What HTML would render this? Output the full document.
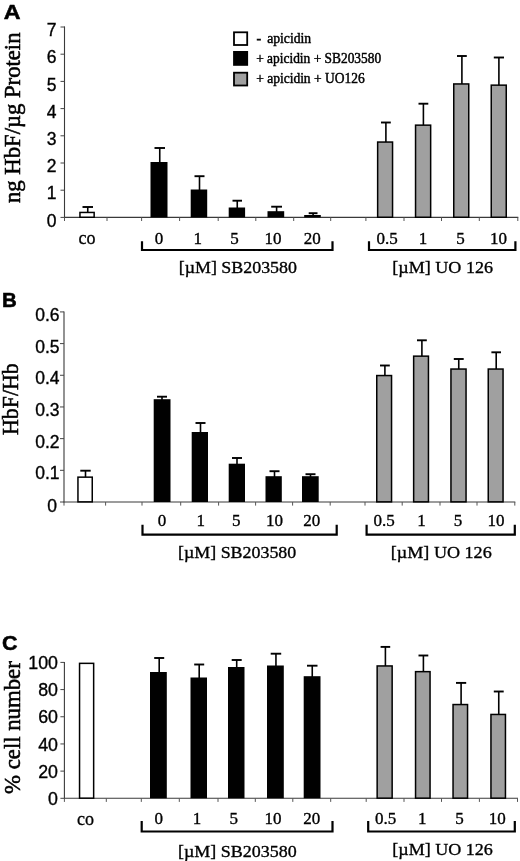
<!DOCTYPE html>
<html><head><meta charset="utf-8"><title>Figure</title>
<style>
html,body{margin:0;padding:0;background:#fff;}
body{width:520px;height:861px;overflow:hidden;font-family:"Liberation Sans",sans-serif;}
svg{display:block;will-change:transform;opacity:0.999;}
text{fill:#000;}
</style></head><body>
<svg width="520" height="861" viewBox="0 0 520 861">
<rect x="0" y="0" width="520" height="861" fill="#fff"/>
<line x1="64.50" y1="26.40" x2="64.50" y2="217.90" stroke="#3a3a3a" stroke-width="1.1" stroke-linecap="butt"/>
<line x1="64.00" y1="217.40" x2="518.30" y2="217.40" stroke="#3a3a3a" stroke-width="1.1" stroke-linecap="butt"/>
<line x1="60.50" y1="217.40" x2="64.50" y2="217.40" stroke="#444" stroke-width="1.0" stroke-linecap="butt"/>
<line x1="60.50" y1="190.20" x2="64.50" y2="190.20" stroke="#444" stroke-width="1.0" stroke-linecap="butt"/>
<line x1="60.50" y1="163.00" x2="64.50" y2="163.00" stroke="#444" stroke-width="1.0" stroke-linecap="butt"/>
<line x1="60.50" y1="135.80" x2="64.50" y2="135.80" stroke="#444" stroke-width="1.0" stroke-linecap="butt"/>
<line x1="60.50" y1="108.60" x2="64.50" y2="108.60" stroke="#444" stroke-width="1.0" stroke-linecap="butt"/>
<line x1="60.50" y1="81.40" x2="64.50" y2="81.40" stroke="#444" stroke-width="1.0" stroke-linecap="butt"/>
<line x1="60.50" y1="54.20" x2="64.50" y2="54.20" stroke="#444" stroke-width="1.0" stroke-linecap="butt"/>
<line x1="60.50" y1="27.00" x2="64.50" y2="27.00" stroke="#444" stroke-width="1.0" stroke-linecap="butt"/>
<line x1="64.50" y1="217.40" x2="64.50" y2="221.00" stroke="#555" stroke-width="1.0" stroke-linecap="butt"/>
<line x1="107.00" y1="217.40" x2="107.00" y2="221.00" stroke="#555" stroke-width="1.0" stroke-linecap="butt"/>
<line x1="141.60" y1="217.40" x2="141.60" y2="221.00" stroke="#555" stroke-width="1.0" stroke-linecap="butt"/>
<line x1="179.60" y1="217.40" x2="179.60" y2="221.00" stroke="#555" stroke-width="1.0" stroke-linecap="butt"/>
<line x1="218.20" y1="217.40" x2="218.20" y2="221.00" stroke="#555" stroke-width="1.0" stroke-linecap="butt"/>
<line x1="255.80" y1="217.40" x2="255.80" y2="221.00" stroke="#555" stroke-width="1.0" stroke-linecap="butt"/>
<line x1="293.70" y1="217.40" x2="293.70" y2="221.00" stroke="#555" stroke-width="1.0" stroke-linecap="butt"/>
<line x1="330.70" y1="217.40" x2="330.70" y2="221.00" stroke="#555" stroke-width="1.0" stroke-linecap="butt"/>
<line x1="365.90" y1="217.40" x2="365.90" y2="221.00" stroke="#555" stroke-width="1.0" stroke-linecap="butt"/>
<line x1="404.00" y1="217.40" x2="404.00" y2="221.00" stroke="#555" stroke-width="1.0" stroke-linecap="butt"/>
<line x1="441.50" y1="217.40" x2="441.50" y2="221.00" stroke="#555" stroke-width="1.0" stroke-linecap="butt"/>
<line x1="479.30" y1="217.40" x2="479.30" y2="221.00" stroke="#555" stroke-width="1.0" stroke-linecap="butt"/>
<line x1="517.80" y1="217.40" x2="517.80" y2="221.00" stroke="#555" stroke-width="1.0" stroke-linecap="butt"/>
<text x="56.50" y="226.60" font-family='"Liberation Sans", sans-serif' font-size="17.5" font-weight="normal" text-anchor="end" stroke="#000" stroke-width="0.35">0</text>
<text x="56.50" y="199.40" font-family='"Liberation Sans", sans-serif' font-size="17.5" font-weight="normal" text-anchor="end" stroke="#000" stroke-width="0.35">1</text>
<text x="56.50" y="172.20" font-family='"Liberation Sans", sans-serif' font-size="17.5" font-weight="normal" text-anchor="end" stroke="#000" stroke-width="0.35">2</text>
<text x="56.50" y="145.00" font-family='"Liberation Sans", sans-serif' font-size="17.5" font-weight="normal" text-anchor="end" stroke="#000" stroke-width="0.35">3</text>
<text x="56.50" y="117.80" font-family='"Liberation Sans", sans-serif' font-size="17.5" font-weight="normal" text-anchor="end" stroke="#000" stroke-width="0.35">4</text>
<text x="56.50" y="90.60" font-family='"Liberation Sans", sans-serif' font-size="17.5" font-weight="normal" text-anchor="end" stroke="#000" stroke-width="0.35">5</text>
<text x="56.50" y="63.40" font-family='"Liberation Sans", sans-serif' font-size="17.5" font-weight="normal" text-anchor="end" stroke="#000" stroke-width="0.35">6</text>
<text x="56.50" y="36.20" font-family='"Liberation Sans", sans-serif' font-size="17.5" font-weight="normal" text-anchor="end" stroke="#000" stroke-width="0.35">7</text>
<line x1="87.75" y1="207.00" x2="87.75" y2="212.70" stroke="#000" stroke-width="1.6" stroke-linecap="butt"/>
<line x1="82.50" y1="207.00" x2="93.00" y2="207.00" stroke="#000" stroke-width="1.9" stroke-linecap="butt"/>
<rect x="79.95" y="212.45" width="14.20" height="4.80" fill="#fff" stroke="#000" stroke-width="1.5"/>
<line x1="159.75" y1="148.00" x2="159.75" y2="163.00" stroke="#000" stroke-width="1.6" stroke-linecap="butt"/>
<line x1="154.50" y1="148.00" x2="165.00" y2="148.00" stroke="#000" stroke-width="1.9" stroke-linecap="butt"/>
<rect x="150.50" y="162.00" width="17.00" height="55.40" fill="#000"/>
<line x1="199.50" y1="176.20" x2="199.50" y2="190.50" stroke="#000" stroke-width="1.6" stroke-linecap="butt"/>
<line x1="194.50" y1="176.20" x2="204.50" y2="176.20" stroke="#000" stroke-width="1.9" stroke-linecap="butt"/>
<rect x="190.70" y="189.50" width="16.50" height="27.90" fill="#000"/>
<line x1="237.25" y1="200.70" x2="237.25" y2="208.50" stroke="#000" stroke-width="1.6" stroke-linecap="butt"/>
<line x1="232.50" y1="200.70" x2="242.00" y2="200.70" stroke="#000" stroke-width="1.9" stroke-linecap="butt"/>
<rect x="228.70" y="207.50" width="16.40" height="9.90" fill="#000"/>
<line x1="276.60" y1="206.70" x2="276.60" y2="212.20" stroke="#000" stroke-width="1.6" stroke-linecap="butt"/>
<line x1="271.20" y1="206.70" x2="282.00" y2="206.70" stroke="#000" stroke-width="1.9" stroke-linecap="butt"/>
<rect x="267.50" y="211.20" width="16.70" height="6.20" fill="#000"/>
<line x1="313.10" y1="213.20" x2="313.10" y2="216.00" stroke="#000" stroke-width="1.6" stroke-linecap="butt"/>
<line x1="308.70" y1="213.20" x2="317.50" y2="213.20" stroke="#000" stroke-width="1.9" stroke-linecap="butt"/>
<rect x="304.20" y="215.00" width="16.60" height="2.40" fill="#000"/>
<line x1="385.90" y1="122.50" x2="385.90" y2="142.30" stroke="#000" stroke-width="1.6" stroke-linecap="butt"/>
<line x1="381.00" y1="122.50" x2="390.80" y2="122.50" stroke="#000" stroke-width="1.9" stroke-linecap="butt"/>
<rect x="377.65" y="142.05" width="14.90" height="75.20" fill="#a0a0a0" stroke="#000" stroke-width="1.5"/>
<line x1="423.40" y1="103.70" x2="423.40" y2="125.40" stroke="#000" stroke-width="1.6" stroke-linecap="butt"/>
<line x1="418.50" y1="103.70" x2="428.30" y2="103.70" stroke="#000" stroke-width="1.9" stroke-linecap="butt"/>
<rect x="415.55" y="125.15" width="15.10" height="92.10" fill="#a0a0a0" stroke="#000" stroke-width="1.5"/>
<line x1="461.90" y1="56.00" x2="461.90" y2="84.20" stroke="#000" stroke-width="1.6" stroke-linecap="butt"/>
<line x1="457.00" y1="56.00" x2="466.80" y2="56.00" stroke="#000" stroke-width="1.9" stroke-linecap="butt"/>
<rect x="453.75" y="83.95" width="15.00" height="133.30" fill="#a0a0a0" stroke="#000" stroke-width="1.5"/>
<line x1="498.90" y1="57.50" x2="498.90" y2="85.40" stroke="#000" stroke-width="1.6" stroke-linecap="butt"/>
<line x1="493.80" y1="57.50" x2="504.00" y2="57.50" stroke="#000" stroke-width="1.9" stroke-linecap="butt"/>
<rect x="491.25" y="85.15" width="15.00" height="132.10" fill="#a0a0a0" stroke="#000" stroke-width="1.5"/>
<text x="159.00" y="243.80" font-family='"Liberation Serif", serif' font-size="17" font-weight="normal" text-anchor="middle" stroke="#000" stroke-width="0.35">0</text>
<text x="197.80" y="243.80" font-family='"Liberation Serif", serif' font-size="17" font-weight="normal" text-anchor="middle" stroke="#000" stroke-width="0.35">1</text>
<text x="234.40" y="243.80" font-family='"Liberation Serif", serif' font-size="17" font-weight="normal" text-anchor="middle" stroke="#000" stroke-width="0.35">5</text>
<text x="273.10" y="243.80" font-family='"Liberation Serif", serif' font-size="17" font-weight="normal" text-anchor="middle" stroke="#000" stroke-width="0.35">10</text>
<text x="312.20" y="243.80" font-family='"Liberation Serif", serif' font-size="17" font-weight="normal" text-anchor="middle" stroke="#000" stroke-width="0.35">20</text>
<text x="387.00" y="243.80" font-family='"Liberation Serif", serif' font-size="17" font-weight="normal" text-anchor="middle" stroke="#000" stroke-width="0.35">0.5</text>
<text x="423.00" y="243.80" font-family='"Liberation Serif", serif' font-size="17" font-weight="normal" text-anchor="middle" stroke="#000" stroke-width="0.35">1</text>
<text x="460.40" y="243.80" font-family='"Liberation Serif", serif' font-size="17" font-weight="normal" text-anchor="middle" stroke="#000" stroke-width="0.35">5</text>
<text x="498.40" y="243.80" font-family='"Liberation Serif", serif' font-size="17" font-weight="normal" text-anchor="middle" stroke="#000" stroke-width="0.35">10</text>
<text x="87.00" y="244.30" font-family='"Liberation Serif", serif' font-size="18" font-weight="normal" text-anchor="middle" stroke="#000" stroke-width="0.3">co</text>
<polyline points="142.00,241.20 142.00,250.00 332.50,250.00 332.50,241.20" fill="none" stroke="#000" stroke-width="2.2"/>
<polyline points="369.00,241.20 369.00,250.00 515.40,250.00 515.40,241.20" fill="none" stroke="#000" stroke-width="2.2"/>
<text x="178.70" y="273.30" font-family='"Liberation Serif", serif' font-size="17.5" font-weight="normal" text-anchor="start" textLength="118.3" lengthAdjust="spacingAndGlyphs" stroke="#000" stroke-width="0.35">[µM] SB203580</text>
<text x="392.30" y="273.30" font-family='"Liberation Serif", serif' font-size="17.5" font-weight="normal" text-anchor="start" textLength="100.7" lengthAdjust="spacingAndGlyphs" stroke="#000" stroke-width="0.35">[µM] UO 126</text>
<text x="3.80" y="18.60" font-family='"Liberation Sans", sans-serif' font-size="19.5" font-weight="bold" text-anchor="start" textLength="16.8" lengthAdjust="spacingAndGlyphs" stroke="#000" stroke-width="0.5">A</text>
<text transform="translate(19.90,203.00) rotate(-90)" font-family='"Liberation Serif", serif' font-size="22.5" stroke="#000" stroke-width="0.55" textLength="170.5" lengthAdjust="spacingAndGlyphs">ng HbF/µg Protein</text>
<line x1="64.00" y1="311.40" x2="64.00" y2="502.50" stroke="#3a3a3a" stroke-width="1.1" stroke-linecap="butt"/>
<line x1="63.50" y1="502.00" x2="515.30" y2="502.00" stroke="#3a3a3a" stroke-width="1.1" stroke-linecap="butt"/>
<line x1="60.00" y1="502.00" x2="64.00" y2="502.00" stroke="#444" stroke-width="1.0" stroke-linecap="butt"/>
<line x1="60.00" y1="470.32" x2="64.00" y2="470.32" stroke="#444" stroke-width="1.0" stroke-linecap="butt"/>
<line x1="60.00" y1="438.64" x2="64.00" y2="438.64" stroke="#444" stroke-width="1.0" stroke-linecap="butt"/>
<line x1="60.00" y1="406.96" x2="64.00" y2="406.96" stroke="#444" stroke-width="1.0" stroke-linecap="butt"/>
<line x1="60.00" y1="375.28" x2="64.00" y2="375.28" stroke="#444" stroke-width="1.0" stroke-linecap="butt"/>
<line x1="60.00" y1="343.60" x2="64.00" y2="343.60" stroke="#444" stroke-width="1.0" stroke-linecap="butt"/>
<line x1="60.00" y1="311.92" x2="64.00" y2="311.92" stroke="#444" stroke-width="1.0" stroke-linecap="butt"/>
<line x1="64.00" y1="502.00" x2="64.00" y2="505.60" stroke="#555" stroke-width="1.0" stroke-linecap="butt"/>
<line x1="105.60" y1="502.00" x2="105.60" y2="505.60" stroke="#555" stroke-width="1.0" stroke-linecap="butt"/>
<line x1="142.00" y1="502.00" x2="142.00" y2="505.60" stroke="#555" stroke-width="1.0" stroke-linecap="butt"/>
<line x1="180.70" y1="502.00" x2="180.70" y2="505.60" stroke="#555" stroke-width="1.0" stroke-linecap="butt"/>
<line x1="218.60" y1="502.00" x2="218.60" y2="505.60" stroke="#555" stroke-width="1.0" stroke-linecap="butt"/>
<line x1="255.60" y1="502.00" x2="255.60" y2="505.60" stroke="#555" stroke-width="1.0" stroke-linecap="butt"/>
<line x1="292.60" y1="502.00" x2="292.60" y2="505.60" stroke="#555" stroke-width="1.0" stroke-linecap="butt"/>
<line x1="330.20" y1="502.00" x2="330.20" y2="505.60" stroke="#555" stroke-width="1.0" stroke-linecap="butt"/>
<line x1="365.00" y1="502.00" x2="365.00" y2="505.60" stroke="#555" stroke-width="1.0" stroke-linecap="butt"/>
<line x1="402.20" y1="502.00" x2="402.20" y2="505.60" stroke="#555" stroke-width="1.0" stroke-linecap="butt"/>
<line x1="440.00" y1="502.00" x2="440.00" y2="505.60" stroke="#555" stroke-width="1.0" stroke-linecap="butt"/>
<line x1="477.00" y1="502.00" x2="477.00" y2="505.60" stroke="#555" stroke-width="1.0" stroke-linecap="butt"/>
<line x1="514.80" y1="502.00" x2="514.80" y2="505.60" stroke="#555" stroke-width="1.0" stroke-linecap="butt"/>
<text x="57.10" y="511.90" font-family='"Liberation Sans", sans-serif' font-size="17.5" font-weight="normal" text-anchor="end" stroke="#000" stroke-width="0.35">0</text>
<text x="59.60" y="479.22" font-family='"Liberation Sans", sans-serif' font-size="17.5" font-weight="normal" text-anchor="end" stroke="#000" stroke-width="0.35">0.1</text>
<text x="59.60" y="447.54" font-family='"Liberation Sans", sans-serif' font-size="17.5" font-weight="normal" text-anchor="end" stroke="#000" stroke-width="0.35">0.2</text>
<text x="59.60" y="415.86" font-family='"Liberation Sans", sans-serif' font-size="17.5" font-weight="normal" text-anchor="end" stroke="#000" stroke-width="0.35">0.3</text>
<text x="59.60" y="384.18" font-family='"Liberation Sans", sans-serif' font-size="17.5" font-weight="normal" text-anchor="end" stroke="#000" stroke-width="0.35">0.4</text>
<text x="59.60" y="352.50" font-family='"Liberation Sans", sans-serif' font-size="17.5" font-weight="normal" text-anchor="end" stroke="#000" stroke-width="0.35">0.5</text>
<text x="59.60" y="320.82" font-family='"Liberation Sans", sans-serif' font-size="17.5" font-weight="normal" text-anchor="end" stroke="#000" stroke-width="0.35">0.6</text>
<line x1="85.50" y1="470.70" x2="85.50" y2="477.40" stroke="#000" stroke-width="1.6" stroke-linecap="butt"/>
<line x1="80.30" y1="470.70" x2="90.70" y2="470.70" stroke="#000" stroke-width="1.9" stroke-linecap="butt"/>
<rect x="77.95" y="477.15" width="14.30" height="24.70" fill="#fff" stroke="#000" stroke-width="1.5"/>
<line x1="162.00" y1="396.70" x2="162.00" y2="400.20" stroke="#000" stroke-width="1.6" stroke-linecap="butt"/>
<line x1="157.00" y1="396.70" x2="167.00" y2="396.70" stroke="#000" stroke-width="1.9" stroke-linecap="butt"/>
<rect x="153.70" y="399.20" width="16.80" height="102.80" fill="#000"/>
<line x1="200.50" y1="423.00" x2="200.50" y2="433.00" stroke="#000" stroke-width="1.6" stroke-linecap="butt"/>
<line x1="195.50" y1="423.00" x2="205.50" y2="423.00" stroke="#000" stroke-width="1.9" stroke-linecap="butt"/>
<rect x="191.70" y="432.00" width="16.30" height="70.00" fill="#000"/>
<line x1="237.00" y1="458.00" x2="237.00" y2="464.70" stroke="#000" stroke-width="1.6" stroke-linecap="butt"/>
<line x1="232.00" y1="458.00" x2="242.00" y2="458.00" stroke="#000" stroke-width="1.9" stroke-linecap="butt"/>
<rect x="228.70" y="463.70" width="16.30" height="38.30" fill="#000"/>
<line x1="274.50" y1="471.20" x2="274.50" y2="477.20" stroke="#000" stroke-width="1.6" stroke-linecap="butt"/>
<line x1="269.50" y1="471.20" x2="279.50" y2="471.20" stroke="#000" stroke-width="1.9" stroke-linecap="butt"/>
<rect x="265.50" y="476.20" width="16.30" height="25.80" fill="#000"/>
<line x1="310.50" y1="474.20" x2="310.50" y2="477.20" stroke="#000" stroke-width="1.6" stroke-linecap="butt"/>
<line x1="305.50" y1="474.20" x2="315.50" y2="474.20" stroke="#000" stroke-width="1.9" stroke-linecap="butt"/>
<rect x="302.00" y="476.20" width="16.70" height="25.80" fill="#000"/>
<line x1="384.90" y1="365.50" x2="384.90" y2="375.80" stroke="#000" stroke-width="1.6" stroke-linecap="butt"/>
<line x1="380.00" y1="365.50" x2="389.80" y2="365.50" stroke="#000" stroke-width="1.9" stroke-linecap="butt"/>
<rect x="376.75" y="375.55" width="14.80" height="126.30" fill="#a0a0a0" stroke="#000" stroke-width="1.5"/>
<line x1="421.90" y1="340.30" x2="421.90" y2="356.40" stroke="#000" stroke-width="1.6" stroke-linecap="butt"/>
<line x1="417.00" y1="340.30" x2="426.80" y2="340.30" stroke="#000" stroke-width="1.9" stroke-linecap="butt"/>
<rect x="413.65" y="356.15" width="14.80" height="145.70" fill="#a0a0a0" stroke="#000" stroke-width="1.5"/>
<line x1="458.75" y1="359.00" x2="458.75" y2="369.30" stroke="#000" stroke-width="1.6" stroke-linecap="butt"/>
<line x1="453.80" y1="359.00" x2="463.70" y2="359.00" stroke="#000" stroke-width="1.9" stroke-linecap="butt"/>
<rect x="450.95" y="369.05" width="15.10" height="132.80" fill="#a0a0a0" stroke="#000" stroke-width="1.5"/>
<line x1="496.20" y1="352.30" x2="496.20" y2="369.30" stroke="#000" stroke-width="1.6" stroke-linecap="butt"/>
<line x1="491.40" y1="352.30" x2="501.00" y2="352.30" stroke="#000" stroke-width="1.9" stroke-linecap="butt"/>
<rect x="488.25" y="369.05" width="14.80" height="132.80" fill="#a0a0a0" stroke="#000" stroke-width="1.5"/>
<text x="162.10" y="526.20" font-family='"Liberation Serif", serif' font-size="17" font-weight="normal" text-anchor="middle" stroke="#000" stroke-width="0.35">0</text>
<text x="200.80" y="526.20" font-family='"Liberation Serif", serif' font-size="17" font-weight="normal" text-anchor="middle" stroke="#000" stroke-width="0.35">1</text>
<text x="236.20" y="526.20" font-family='"Liberation Serif", serif' font-size="17" font-weight="normal" text-anchor="middle" stroke="#000" stroke-width="0.35">5</text>
<text x="274.40" y="526.20" font-family='"Liberation Serif", serif' font-size="17" font-weight="normal" text-anchor="middle" stroke="#000" stroke-width="0.35">10</text>
<text x="311.70" y="526.20" font-family='"Liberation Serif", serif' font-size="17" font-weight="normal" text-anchor="middle" stroke="#000" stroke-width="0.35">20</text>
<text x="384.10" y="526.20" font-family='"Liberation Serif", serif' font-size="17" font-weight="normal" text-anchor="middle" stroke="#000" stroke-width="0.35">0.5</text>
<text x="421.40" y="526.20" font-family='"Liberation Serif", serif' font-size="17" font-weight="normal" text-anchor="middle" stroke="#000" stroke-width="0.35">1</text>
<text x="458.00" y="526.20" font-family='"Liberation Serif", serif' font-size="17" font-weight="normal" text-anchor="middle" stroke="#000" stroke-width="0.35">5</text>
<text x="496.00" y="526.20" font-family='"Liberation Serif", serif' font-size="17" font-weight="normal" text-anchor="middle" stroke="#000" stroke-width="0.35">10</text>
<polyline points="142.50,524.80 142.50,534.60 336.70,534.60 336.70,524.80" fill="none" stroke="#000" stroke-width="2.2"/>
<polyline points="366.60,524.80 366.60,534.60 514.80,534.60 514.80,524.80" fill="none" stroke="#000" stroke-width="2.2"/>
<text x="178.00" y="558.40" font-family='"Liberation Serif", serif' font-size="17.5" font-weight="normal" text-anchor="start" textLength="118.3" lengthAdjust="spacingAndGlyphs" stroke="#000" stroke-width="0.35">[µM] SB203580</text>
<text x="390.80" y="557.60" font-family='"Liberation Serif", serif' font-size="17.5" font-weight="normal" text-anchor="start" textLength="100.9" lengthAdjust="spacingAndGlyphs" stroke="#000" stroke-width="0.35">[µM] UO 126</text>
<text x="2.00" y="306.80" font-family='"Liberation Sans", sans-serif' font-size="19.5" font-weight="bold" text-anchor="start" textLength="14.8" lengthAdjust="spacingAndGlyphs" stroke="#000" stroke-width="0.5">B</text>
<text transform="translate(18.00,434.90) rotate(-90)" font-family='"Liberation Serif", serif' font-size="22.5" stroke="#000" stroke-width="0.55" textLength="71.5" lengthAdjust="spacingAndGlyphs">HbF/Hb</text>
<line x1="64.40" y1="661.90" x2="64.40" y2="798.80" stroke="#3a3a3a" stroke-width="1.1" stroke-linecap="butt"/>
<line x1="63.90" y1="798.30" x2="518.00" y2="798.30" stroke="#3a3a3a" stroke-width="1.1" stroke-linecap="butt"/>
<line x1="60.40" y1="798.30" x2="64.40" y2="798.30" stroke="#444" stroke-width="1.0" stroke-linecap="butt"/>
<line x1="60.40" y1="771.12" x2="64.40" y2="771.12" stroke="#444" stroke-width="1.0" stroke-linecap="butt"/>
<line x1="60.40" y1="743.94" x2="64.40" y2="743.94" stroke="#444" stroke-width="1.0" stroke-linecap="butt"/>
<line x1="60.40" y1="716.76" x2="64.40" y2="716.76" stroke="#444" stroke-width="1.0" stroke-linecap="butt"/>
<line x1="60.40" y1="689.58" x2="64.40" y2="689.58" stroke="#444" stroke-width="1.0" stroke-linecap="butt"/>
<line x1="60.40" y1="662.40" x2="64.40" y2="662.40" stroke="#444" stroke-width="1.0" stroke-linecap="butt"/>
<line x1="64.40" y1="798.30" x2="64.40" y2="801.90" stroke="#555" stroke-width="1.0" stroke-linecap="butt"/>
<line x1="106.30" y1="798.30" x2="106.30" y2="801.90" stroke="#555" stroke-width="1.0" stroke-linecap="butt"/>
<line x1="141.30" y1="798.30" x2="141.30" y2="801.90" stroke="#555" stroke-width="1.0" stroke-linecap="butt"/>
<line x1="179.30" y1="798.30" x2="179.30" y2="801.90" stroke="#555" stroke-width="1.0" stroke-linecap="butt"/>
<line x1="218.00" y1="798.30" x2="218.00" y2="801.90" stroke="#555" stroke-width="1.0" stroke-linecap="butt"/>
<line x1="255.30" y1="798.30" x2="255.30" y2="801.90" stroke="#555" stroke-width="1.0" stroke-linecap="butt"/>
<line x1="292.80" y1="798.30" x2="292.80" y2="801.90" stroke="#555" stroke-width="1.0" stroke-linecap="butt"/>
<line x1="330.70" y1="798.30" x2="330.70" y2="801.90" stroke="#555" stroke-width="1.0" stroke-linecap="butt"/>
<line x1="366.20" y1="798.30" x2="366.20" y2="801.90" stroke="#555" stroke-width="1.0" stroke-linecap="butt"/>
<line x1="404.00" y1="798.30" x2="404.00" y2="801.90" stroke="#555" stroke-width="1.0" stroke-linecap="butt"/>
<line x1="441.50" y1="798.30" x2="441.50" y2="801.90" stroke="#555" stroke-width="1.0" stroke-linecap="butt"/>
<line x1="479.40" y1="798.30" x2="479.40" y2="801.90" stroke="#555" stroke-width="1.0" stroke-linecap="butt"/>
<line x1="517.50" y1="798.30" x2="517.50" y2="801.90" stroke="#555" stroke-width="1.0" stroke-linecap="butt"/>
<text x="58.00" y="804.90" font-family='"Liberation Sans", sans-serif' font-size="17.8" font-weight="normal" text-anchor="end" stroke="#000" stroke-width="0.35">0</text>
<text x="58.00" y="777.72" font-family='"Liberation Sans", sans-serif' font-size="17.8" font-weight="normal" text-anchor="end" stroke="#000" stroke-width="0.35">20</text>
<text x="58.00" y="750.54" font-family='"Liberation Sans", sans-serif' font-size="17.8" font-weight="normal" text-anchor="end" stroke="#000" stroke-width="0.35">40</text>
<text x="58.00" y="723.36" font-family='"Liberation Sans", sans-serif' font-size="17.8" font-weight="normal" text-anchor="end" stroke="#000" stroke-width="0.35">60</text>
<text x="58.00" y="696.18" font-family='"Liberation Sans", sans-serif' font-size="17.8" font-weight="normal" text-anchor="end" stroke="#000" stroke-width="0.35">80</text>
<text x="58.00" y="669.00" font-family='"Liberation Sans", sans-serif' font-size="17.8" font-weight="normal" text-anchor="end" stroke="#000" stroke-width="0.35">100</text>
<rect x="79.55" y="663.35" width="14.10" height="134.80" fill="#fff" stroke="#000" stroke-width="1.5"/>
<line x1="159.20" y1="658.00" x2="159.20" y2="673.00" stroke="#000" stroke-width="1.6" stroke-linecap="butt"/>
<line x1="154.20" y1="658.00" x2="164.20" y2="658.00" stroke="#000" stroke-width="1.9" stroke-linecap="butt"/>
<rect x="150.00" y="672.00" width="16.80" height="126.30" fill="#000"/>
<line x1="199.20" y1="664.50" x2="199.20" y2="678.50" stroke="#000" stroke-width="1.6" stroke-linecap="butt"/>
<line x1="194.20" y1="664.50" x2="204.20" y2="664.50" stroke="#000" stroke-width="1.9" stroke-linecap="butt"/>
<rect x="190.50" y="677.50" width="16.50" height="120.80" fill="#000"/>
<line x1="236.70" y1="660.00" x2="236.70" y2="668.00" stroke="#000" stroke-width="1.6" stroke-linecap="butt"/>
<line x1="231.70" y1="660.00" x2="241.70" y2="660.00" stroke="#000" stroke-width="1.9" stroke-linecap="butt"/>
<rect x="228.00" y="667.00" width="16.50" height="131.30" fill="#000"/>
<line x1="275.95" y1="653.70" x2="275.95" y2="666.50" stroke="#000" stroke-width="1.6" stroke-linecap="butt"/>
<line x1="270.70" y1="653.70" x2="281.20" y2="653.70" stroke="#000" stroke-width="1.9" stroke-linecap="butt"/>
<rect x="267.00" y="665.50" width="16.80" height="132.80" fill="#000"/>
<line x1="312.25" y1="665.70" x2="312.25" y2="677.20" stroke="#000" stroke-width="1.6" stroke-linecap="butt"/>
<line x1="307.00" y1="665.70" x2="317.50" y2="665.70" stroke="#000" stroke-width="1.9" stroke-linecap="butt"/>
<rect x="303.70" y="676.20" width="16.80" height="122.10" fill="#000"/>
<line x1="385.40" y1="646.90" x2="385.40" y2="666.20" stroke="#000" stroke-width="1.6" stroke-linecap="butt"/>
<line x1="380.60" y1="646.90" x2="390.20" y2="646.90" stroke="#000" stroke-width="1.9" stroke-linecap="butt"/>
<rect x="377.15" y="665.95" width="15.00" height="132.20" fill="#a0a0a0" stroke="#000" stroke-width="1.5"/>
<line x1="423.40" y1="655.50" x2="423.40" y2="671.90" stroke="#000" stroke-width="1.6" stroke-linecap="butt"/>
<line x1="418.50" y1="655.50" x2="428.30" y2="655.50" stroke="#000" stroke-width="1.9" stroke-linecap="butt"/>
<rect x="415.55" y="671.65" width="14.50" height="126.50" fill="#a0a0a0" stroke="#000" stroke-width="1.5"/>
<line x1="461.10" y1="682.90" x2="461.10" y2="704.80" stroke="#000" stroke-width="1.6" stroke-linecap="butt"/>
<line x1="456.00" y1="682.90" x2="466.20" y2="682.90" stroke="#000" stroke-width="1.9" stroke-linecap="butt"/>
<rect x="453.05" y="704.55" width="14.50" height="93.60" fill="#a0a0a0" stroke="#000" stroke-width="1.5"/>
<line x1="498.75" y1="691.50" x2="498.75" y2="714.70" stroke="#000" stroke-width="1.6" stroke-linecap="butt"/>
<line x1="493.80" y1="691.50" x2="503.70" y2="691.50" stroke="#000" stroke-width="1.9" stroke-linecap="butt"/>
<rect x="490.95" y="714.45" width="14.50" height="83.70" fill="#a0a0a0" stroke="#000" stroke-width="1.5"/>
<text x="158.70" y="824.00" font-family='"Liberation Serif", serif' font-size="17" font-weight="normal" text-anchor="middle" stroke="#000" stroke-width="0.35">0</text>
<text x="197.10" y="824.00" font-family='"Liberation Serif", serif' font-size="17" font-weight="normal" text-anchor="middle" stroke="#000" stroke-width="0.35">1</text>
<text x="233.70" y="824.00" font-family='"Liberation Serif", serif' font-size="17" font-weight="normal" text-anchor="middle" stroke="#000" stroke-width="0.35">5</text>
<text x="273.00" y="824.00" font-family='"Liberation Serif", serif' font-size="17" font-weight="normal" text-anchor="middle" stroke="#000" stroke-width="0.35">10</text>
<text x="311.70" y="824.00" font-family='"Liberation Serif", serif' font-size="17" font-weight="normal" text-anchor="middle" stroke="#000" stroke-width="0.35">20</text>
<text x="385.70" y="824.00" font-family='"Liberation Serif", serif' font-size="17" font-weight="normal" text-anchor="middle" stroke="#000" stroke-width="0.35">0.5</text>
<text x="422.30" y="824.00" font-family='"Liberation Serif", serif' font-size="17" font-weight="normal" text-anchor="middle" stroke="#000" stroke-width="0.35">1</text>
<text x="459.50" y="824.00" font-family='"Liberation Serif", serif' font-size="17" font-weight="normal" text-anchor="middle" stroke="#000" stroke-width="0.35">5</text>
<text x="497.20" y="824.00" font-family='"Liberation Serif", serif' font-size="17" font-weight="normal" text-anchor="middle" stroke="#000" stroke-width="0.35">10</text>
<text x="85.60" y="825.00" font-family='"Liberation Serif", serif' font-size="18" font-weight="normal" text-anchor="middle" stroke="#000" stroke-width="0.3">co</text>
<polyline points="141.70,821.00 141.70,831.50 332.50,831.50 332.50,821.00" fill="none" stroke="#000" stroke-width="2.2"/>
<polyline points="368.20,821.00 368.20,831.50 514.80,831.50 514.80,821.00" fill="none" stroke="#000" stroke-width="2.2"/>
<text x="178.00" y="856.60" font-family='"Liberation Serif", serif' font-size="17.5" font-weight="normal" text-anchor="start" textLength="118.7" lengthAdjust="spacingAndGlyphs" stroke="#000" stroke-width="0.35">[µM] SB203580</text>
<text x="392.30" y="855.00" font-family='"Liberation Serif", serif' font-size="17.5" font-weight="normal" text-anchor="start" textLength="100.6" lengthAdjust="spacingAndGlyphs" stroke="#000" stroke-width="0.35">[µM] UO 126</text>
<text x="2.00" y="650.00" font-family='"Liberation Sans", sans-serif' font-size="20.5" font-weight="bold" text-anchor="start" textLength="15.5" lengthAdjust="spacingAndGlyphs" stroke="#000" stroke-width="0.5">C</text>
<text transform="translate(19.50,794.00) rotate(-90)" font-family='"Liberation Serif", serif' font-size="22.5" stroke="#000" stroke-width="0.55" textLength="132.8" lengthAdjust="spacingAndGlyphs">% cell number</text>
<rect x="234.00" y="32.30" width="13.20" height="12.70" fill="#fff" stroke="#000" stroke-width="1.8"/>
<rect x="234.00" y="51.90" width="13.20" height="13.00" fill="#000" stroke="#000" stroke-width="1.8"/>
<rect x="234.00" y="72.70" width="13.20" height="12.80" fill="#a0a0a0" stroke="#000" stroke-width="1.8"/>
<text x="256.50" y="42.90" font-family='"Liberation Serif", serif' font-size="14" font-weight="normal" text-anchor="start" stroke="#000" stroke-width="0.5">-</text>
<text x="267.20" y="42.90" font-family='"Liberation Serif", serif' font-size="14" font-weight="normal" text-anchor="start" textLength="44.0" lengthAdjust="spacingAndGlyphs" stroke="#000" stroke-width="0.45">apicidin</text>
<text x="256.20" y="62.80" font-family='"Liberation Serif", serif' font-size="14" font-weight="normal" text-anchor="start" textLength="125.0" lengthAdjust="spacingAndGlyphs" stroke="#000" stroke-width="0.45">+ apicidin + SB203580</text>
<text x="256.20" y="83.00" font-family='"Liberation Serif", serif' font-size="14" font-weight="normal" text-anchor="start" textLength="108.5" lengthAdjust="spacingAndGlyphs" stroke="#000" stroke-width="0.45">+ apicidin + UO126</text>
</svg>
</body></html>
